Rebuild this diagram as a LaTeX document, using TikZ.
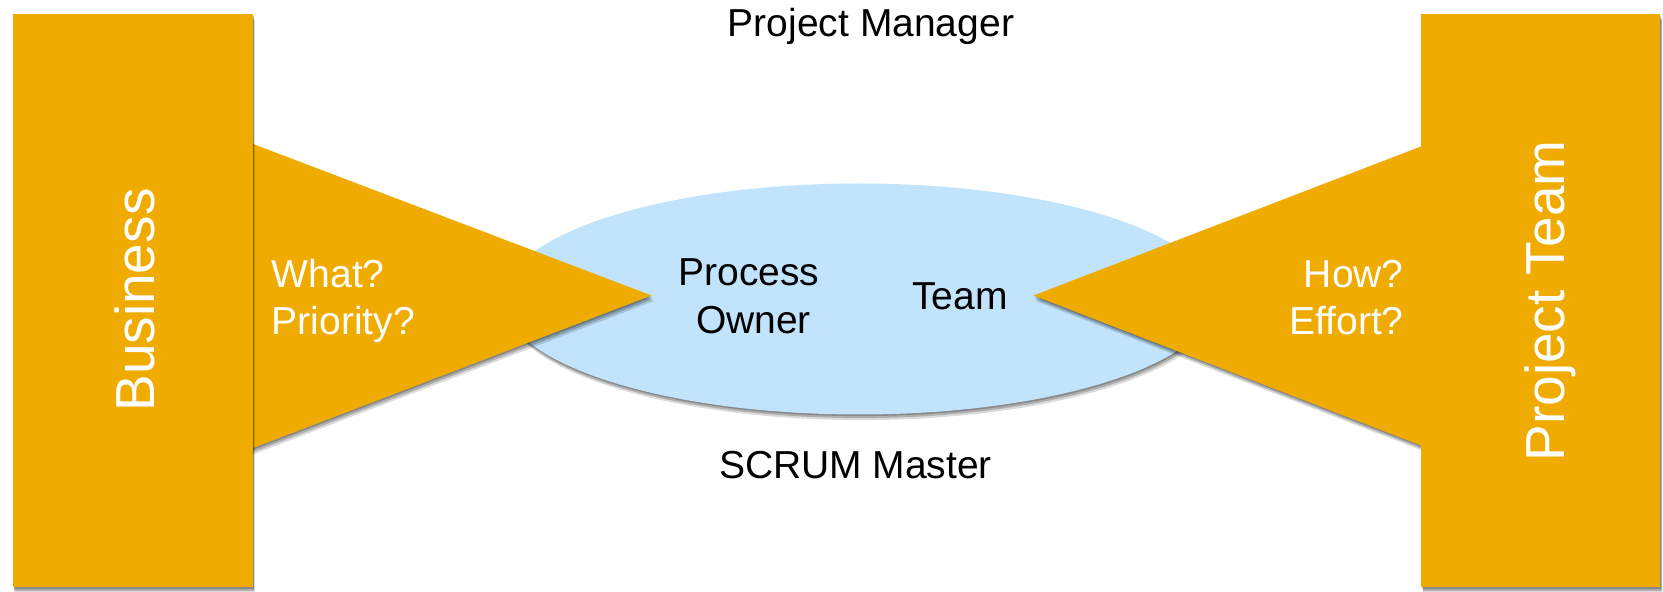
\documentclass[tikz,border=0pt]{standalone}
\usepackage{fontspec}
\setmainfont{Liberation Sans}
\usetikzlibrary{shapes.geometric,shadows}
\definecolor{gold}{RGB}{239,171,0}
\definecolor{skyblue}{RGB}{193,228,252}
\tikzset{
  soft/.style={
    drop shadow={shadow xshift=0.4pt,shadow yshift=-0.8pt,opacity=0.22,fill=black},
    drop shadow={shadow xshift=0.8pt,shadow yshift=-1.8pt,opacity=0.20,fill=black},
    drop shadow={shadow xshift=1.2pt,shadow yshift=-2.8pt,opacity=0.14,fill=black}},
  block/.style={fill=gold,draw=none,inner sep=0pt,outer sep=0pt,soft},
  wedge/.style={fill=gold,draw=none,soft},
  pool/.style={ellipse,fill=skyblue,draw=none,inner sep=0pt,outer sep=0pt,soft},
  side/.style={text=white,inner sep=0pt,rotate=90,anchor=base,
    font={\fontsize{27.5}{33}\selectfont}},
  ask/.style={text=white,inner sep=0pt,font={\fontsize{19.5}{23.75}\selectfont}},
  role/.style={text=black,inner sep=0pt,font={\fontsize{19.5}{24}\selectfont}}
}
\begin{document}
\begin{tikzpicture}[x=0.5pt,y=-0.5pt]
\useasboundingbox (0,0) rectangle (1663,592);
\fill[white] (0,0) rectangle (1663,592);

% central pool
\node[pool,minimum width=356pt,minimum height=115.5pt] (pool) at (859,299) {};

% wedges pointing into the pool
\coordinate (lt) at (240,139);
\coordinate (ltip) at (651.5,295.5);
\coordinate (lb) at (240,453);
\fill[wedge] (lt) -- (ltip) -- (lb) -- cycle;

\coordinate (rt) at (1430,143);
\coordinate (rtip) at (1033.5,295.5);
\coordinate (rb) at (1430,449);
\fill[wedge] (rt) -- (rtip) -- (rb) -- cycle;

% side columns
\node[block,minimum width=120pt,minimum height=286.5pt] (business) at (132.7,300.5) {};
\node[block,minimum width=119.5pt,minimum height=286.5pt] (team) at (1540.5,300.5) {};

\node[side] (businesslabel) at (154,300) {Business};
\node[side] (teamlabel) at (1564.5,301) {Project Team};

% questions on the wedges
\node[ask,anchor=base west] (what) at (271.5,287.7) {What?};
\node[ask,anchor=base west] (priority) at (271.5,335) {Priority?};
\node[ask,anchor=base east] (how) at (1404,287.7) {How?};
\node[ask,anchor=base east] (effort) at (1404,335) {Effort?};

% roles
\node[role,anchor=base] (pm) at (871,36.6) {Project Manager};
\node[role,anchor=base] (process) at (749,285.8) {Process};
\node[role,anchor=base] (owner) at (753.5,334) {Owner};
\node[role,anchor=base] (teamrole) at (960,309.5) {Team};
\node[role,anchor=base] (sm) at (855.5,478.3) {SCRUM Master};
\end{tikzpicture}
\end{document}
